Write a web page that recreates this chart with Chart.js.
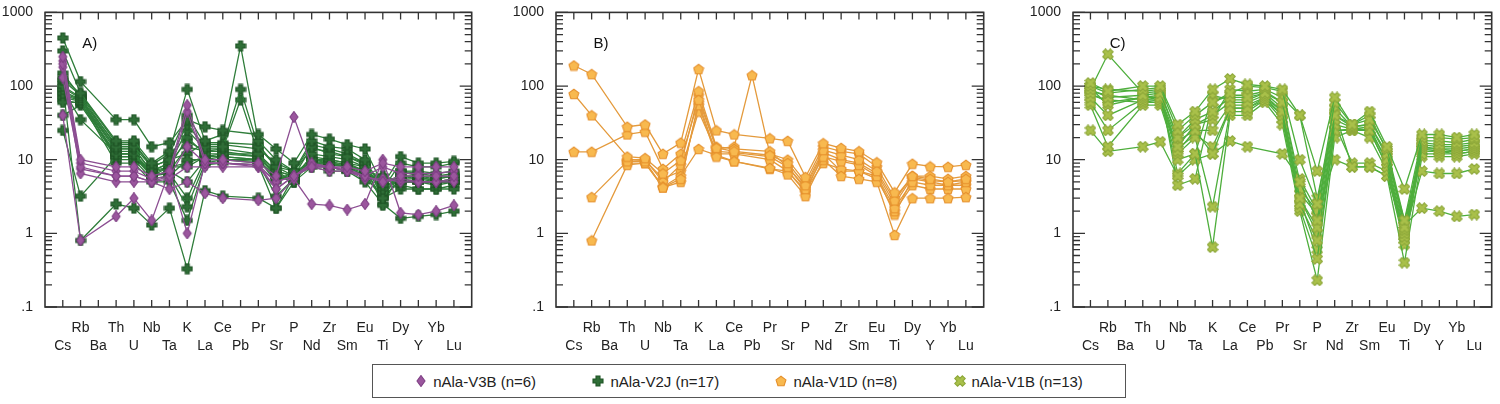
<!DOCTYPE html>
<html lang="en">
<head>
<meta charset="UTF-8">
<title>Spider diagrams</title>
<script src="https://cdn.jsdelivr.net/npm/chart.js"></script>
<style>
  body { margin: 0; background: #fff; width: 1500px; height: 404px; position: relative; overflow: hidden; font-family: "Liberation Sans", Arial, sans-serif; }
  .panel { position: absolute; top: 0; height: 350px; }
  #legend { position: absolute; left: 372px; top: 364px; width: 754px; height: 34px; border: 1px solid #555; display: flex; align-items: center; justify-content: space-around; font-size: 15px; color: #222; box-sizing: border-box; padding: 0 14px; }
  #legend span { display: flex; align-items: center; gap: 6px; }
</style>
</head>
<body>
<div class="panel" style="left:0;width:478px"><canvas id="chartA"></canvas></div>
<div class="panel" style="left:512px;width:478px"><canvas id="chartB"></canvas></div>
<div class="panel" style="left:1028px;width:470px"><canvas id="chartC"></canvas></div>
<div id="legend"></div>

<script>
// element order on the x axis
const elements = ['Cs','Rb','Ba','Th','U','Nb','Ta','K','La','Ce','Pb','Pr','Sr','P','Nd','Zr','Sm','Eu','Ti','Dy','Y','Yb','Lu'];
const yTicks = [1000, 100, 10, 1, 0.1];
const yTickLabels = ['1000', '100', '10', '1', '.1'];

// A) nAla-V3B (n=6)
const v3b = [
  [250,10,null,8,8,6,7,55,10,10,null,9,6,38,8,8,8,7,9,8,8,8,8],
  [200,8,null,6,6,5,6,15,9,9,null,8.5,4,6,9,8,7,6,5,6,6,6,6],
  [180,6.5,null,5,5,5,4,5,3.5,3,null,2.8,3,5.5,2.5,2.4,2.1,2.5,10,1.9,1.8,2,2.4],
  [40,0.8,null,1.7,3,1.5,7,1,9,9,null,8,5,6,8,8,7,6,5,5.5,5,5,5],
  [220,9,null,7,7,5.5,6,45,9,9,null,8.5,5,6,8.5,8,7.5,6,8,6.5,6.5,6.5,7],
  [130,7.5,null,6,6,5,5.5,8,8,8,null,8,4,6,8,7,7,5.5,5.5,5,5,5,5.5]
];
// A) nAla-V2J (n=17)
const v2j = [
  [450,115,null,35,35,15,17,35,28,25,null,22,14,9,22,19,16,14,4.5,11,9,9,9.5],
  [300,80,null,18,18,9,13,90,18,22,350,18,10,7,18,15,14,10,4,9,8,8,9],
  [120,75,null,15,15,8,10,30,15,15,90,15,8,6,15,12,11,9,3,7,6,6,6.5],
  [100,70,null,14,14,7,9,25,14,14,65,12,7,5,12,11,10,8,3.5,6,6,5.5,6],
  [90,35,null,12,12,6,8,20,12,12,null,12,6,5.5,10,10,9,8,5,6,6,5,5.5],
  [80,65,null,13,13,6,7,15,13,13,null,11,6,6,9,9,8,7,5,5.5,5,5,5],
  [60,60,null,12,12,7,6,10,10,11,null,10,5,7,9,9,8,6,6,5,5,5,5],
  [25,3.2,null,11,11,7,8,9,11,11,null,10,7,6,10,9,8.5,7,6,5,5,4.5,5],
  [110,0.8,null,2.5,2.2,1.3,2.2,0.33,3.8,3.2,null,3,2.2,5,8,7,7,6,5.5,4.5,4,4,4],
  [150,72,null,10,10,5.5,6,2.3,9,10,null,9,3.2,5.5,9,8,7,6,3,4,4,4,4.5],
  [95,68,null,16,16,8.5,12,40,16,16,null,14,9,7,14,13,11,8.5,2.4,7,7,6.5,7],
  [70,62,null,9,9,5,5,1.5,8.5,9,null,8.5,2.2,6,8,8,7,5,2.5,1.6,1.7,1.8,2.0],
  [130,78,null,17,17,8,10,12,17,17,null,16,8,7,16,14,12,9,3.5,7,6.5,6,6],
  [85,66,null,11,11,6,7,5,10,10,null,9.5,6,5.5,9.5,9,8,6.5,4.5,5,5,5,5],
  [75,64,null,14,14,7,9,18,13,14,null,12,7,6,11,10,9,7,4,6,5.5,5.5,6],
  [65,58,null,12,12,6.5,8,8,11,12,null,11,6,5,10,9.5,8.5,7,3,5.5,5.5,5,5.5],
  [40,55,null,11,11,6,6.5,3,10,10,null,10,5.5,6,9,8.5,8,6,3.2,5,5,4.8,5]
];
// B) nAla-V1D (n=8)
const v1d = [
  [190,145,null,28,30,12,17,170,25,22,null,19.5,18,5.8,16.7,14.4,13,9.2,3.6,8.8,8.1,8,8.5],
  [78,40,null,11,10.5,6.5,9.8,65,14.5,13,null,11.5,9,4.5,13.5,11.5,10,7,2.8,6,5.5,5,5.5],
  [12.8,12.8,null,22,24,7.5,12,85,15,14,null,13,8,4,11,9.5,8.5,6,2.2,5,4.5,4.5,5],
  [null,3.1,null,9.5,9.5,4.2,5.5,55,11,9.5,null,7.7,6.3,3.2,10,6,5.5,5,0.95,3,3,3,3.1],
  [null,0.8,null,8.5,9,4.3,6,14,11.5,9.5,null,7.5,7,3.8,9,7.5,7,5.5,2,4.5,4,4,4],
  [null,null,null,10,10,5,8.5,75,14,15,140,12,10,5,15,13,12,8,3,6,6,5.5,6],
  [null,null,null,9,9,4.2,5,60,12,12,null,10,7,3.6,12,7,7,6,1.8,5.5,5,4.5,4.5],
  [null,null,null,9.5,9.8,5.5,7,45,13,12.5,null,11,8,4.2,12.5,10,9,6.5,2.5,5.8,5.2,5,5.2]
];
// C) nAla-V1B (n=13)
const v1b = [
  [110,85,null,100,100,30,45,90,125,105,100,90,40,7,70,30,45,15,4,22,22,20,22],
  [100,80,null,90,95,25,40,60,80,100,95,85,10,2.5,60,30,35,14,1.5,20,20,19,20],
  [90,70,null,75,80,20,35,45,70,70,80,60,5,1.5,40,28,30,12,1.2,18,18,17,19],
  [80,60,null,70,70,15,30,40,60,60,75,45,3,1.2,35,27,25,10,1.1,17,16,16,17],
  [70,40,null,65,65,13,25,12,50,50,70,40,2.5,0.8,30,26,28,9,1,16,15,15,16],
  [60,25,null,60,60,12,20,2.3,45,45,65,35,2.2,0.45,25,25,25,8,0.9,15,14,14,15],
  [55,15,null,55,55,10,12,0.65,40,40,60,30,2,0.23,20,25,20,7,0.8,14,13,13,14],
  [25,13,null,15,17.5,6,10,12,18,15,null,12,5.5,2,10,8,8,6,1,7,6.5,6.5,7.5],
  [90,270,null,80,85,20,30,35,90,85,90,70,40,3,40,30,40,13,1.3,2.2,2,1.7,1.8],
  [100,90,null,85,90,4.5,5.5,60,75,75,85,60,4,2,50,28,30,11,1.5,12,12,12,13],
  [95,55,null,70,75,6.5,12,75,65,65,80,50,3.5,1.8,45,8,8,6,0.4,11,11,11,12],
  [85,75,null,65,70,18,25,25,55,55,70,45,3,1,30,9,9,7,0.7,13,13,12,13],
  [75,65,null,60,65,14,22,15,50,50,65,40,2.8,0.6,25,26,25,8,0.9,14,14,13,14]
];

// marker images
function marker(shape, fill, stroke) {
  const c = document.createElement('canvas');
  c.width = 12; c.height = 12;
  const g = c.getContext('2d');
  g.fillStyle = fill; g.strokeStyle = stroke; g.lineWidth = 1.1;
  g.beginPath();
  if (shape === 'diamond') {
    g.moveTo(6, 0.5); g.lineTo(10, 6); g.lineTo(6, 11.5); g.lineTo(2, 6); g.closePath();
  } else if (shape === 'plus') {
    const a = 4, b = 8;
    g.moveTo(a, 1); g.lineTo(b, 1); g.lineTo(b, a); g.lineTo(11, a); g.lineTo(11, b); g.lineTo(b, b);
    g.lineTo(b, 11); g.lineTo(a, 11); g.lineTo(a, b); g.lineTo(1, b); g.lineTo(1, a); g.lineTo(a, a); g.closePath();
  } else if (shape === 'pentagon') {
    for (let i = 0; i < 5; i++) {
      const t = -Math.PI / 2 + i * 2 * Math.PI / 5;
      g.lineTo(6 + 5.2 * Math.cos(t), 6.5 + 5.2 * Math.sin(t));
    }
    g.closePath();
  } else {
    g.save(); g.translate(6, 6); g.rotate(Math.PI / 4);
    const a = 2, b = 5.4;
    g.moveTo(-a, -b); g.lineTo(a, -b); g.lineTo(a, -a); g.lineTo(b, -a); g.lineTo(b, a); g.lineTo(a, a);
    g.lineTo(a, b); g.lineTo(-a, b); g.lineTo(-a, a); g.lineTo(-b, a); g.lineTo(-b, -a); g.lineTo(-a, -a); g.closePath();
    g.restore();
  }
  g.fill(); g.stroke();
  return c;
}
const mDiamond = marker('diamond', '#9b569e', '#7e3f84');
const mPlus = marker('plus', '#2f6e37', '#1f5426');
const mPent = marker('pentagon', '#f8b94f', '#e58f2b');
const mX = marker('x', '#a9c04a', '#8ea83a');

function series(rows, color, img) {
  return rows.map(r => ({
    data: r.map((v, i) => v == null ? null : { x: i, y: v }).filter(p => p),
    borderColor: color, borderWidth: 1.3, pointStyle: img, pointRadius: 5,
    showLine: true, spanGaps: true, tension: 0
  }));
}

// inward ticks on all four sides plus frame and panel letter
const frame = {
  id: 'frame',
  afterDraw(chart, args, opts) {
    const g = chart.ctx, a = chart.chartArea, ys = chart.scales.y, xs = chart.scales.x;
    g.save();
    g.strokeStyle = '#333'; g.lineWidth = 1.6;
    g.strokeRect(a.left, a.top, a.right - a.left, a.bottom - a.top);
    g.lineWidth = 1.3;
    for (let d = -1; d <= 3; d++) {
      for (let m = 1; m <= 9; m++) {
        const v = m * Math.pow(10, d);
        if (v > 1000 || v < 0.1) continue;
        const y = ys.getPixelForValue(v), len = m === 1 ? 12 : 7;
        g.beginPath();
        g.moveTo(a.left, y); g.lineTo(a.left + len, y);
        g.moveTo(a.right, y); g.lineTo(a.right - len, y);
        g.stroke();
      }
    }
    for (let i = 0; i < elements.length; i++) {
      const x = xs.getPixelForValue(i);
      g.beginPath();
      g.moveTo(x, a.bottom); g.lineTo(x, a.bottom - 7);
      g.moveTo(x, a.top); g.lineTo(x, a.top + 7);
      g.stroke();
    }
    g.fillStyle = '#111'; g.font = '15px "Liberation Sans", Arial';
    g.fillText(opts.letter, xs.getPixelForValue(1.1), a.top + 36);
    g.restore();
  }
};

function makeChart(id, datasets, letter, yWidth) {
  return new Chart(document.getElementById(id), {
    type: 'scatter',
    data: { datasets },
    plugins: [frame],
    options: {
      animation: false, responsive: true, maintainAspectRatio: false,
      layout: { padding: { top: 9, right: 5, left: 0, bottom: 0 } },
      plugins: { legend: { display: false }, tooltip: { enabled: false }, frame: { letter } },
      scales: {
        x: {
          type: 'linear', min: -1, max: 23,
          afterBuildTicks: s => { s.ticks = elements.map((e, i) => ({ value: i })); },
          afterFit: s => { s.height = 43; },
          grid: { display: false }, border: { display: false },
          ticks: {
            autoSkip: false, maxRotation: 0, padding: 4, color: '#222',
            font: { size: 14, family: '"Liberation Sans", Arial', lineHeight: 1.3 },
            callback: v => (v % 2 ? [elements[v]] : ['', elements[v]])
          }
        },
        y: {
          type: 'logarithmic', min: 0.1, max: 1000,
          afterBuildTicks: s => { s.ticks = yTicks.map(v => ({ value: v })); },
          afterFit: s => { s.width = yWidth; },
          grid: { display: false }, border: { display: false },
          ticks: {
            padding: 4, color: '#222', font: { size: 14, family: '"Liberation Sans", Arial' },
            callback: v => yTickLabels[yTicks.indexOf(v)]
          }
        }
      }
    }
  });
}

// lower dataset index is drawn on top, so V3B goes first
makeChart('chartA', [...series(v3b, '#8c4e92', mDiamond), ...series(v2j, '#2f7d3a', mPlus)], 'A)', 45);
makeChart('chartB', series(v1d, '#e49a3c', mPent), 'B)', 44);
makeChart('chartC', series(v1b, '#4eae3c', mX), 'C)', 45);

// legend
const legendItems = [
  [mDiamond, 'nAla-V3B (n=6)'], [mPlus, 'nAla-V2J (n=17)'],
  [mPent, 'nAla-V1D (n=8)'], [mX, 'nAla-V1B (n=13)']
];
const legend = document.getElementById('legend');
legendItems.forEach(([img, text]) => {
  const s = document.createElement('span');
  const c = document.createElement('canvas');
  c.width = 12; c.height = 12;
  c.getContext('2d').drawImage(img, 0, 0);
  s.appendChild(c);
  s.appendChild(document.createTextNode(text));
  legend.appendChild(s);
});
</script>
</body>
</html>
